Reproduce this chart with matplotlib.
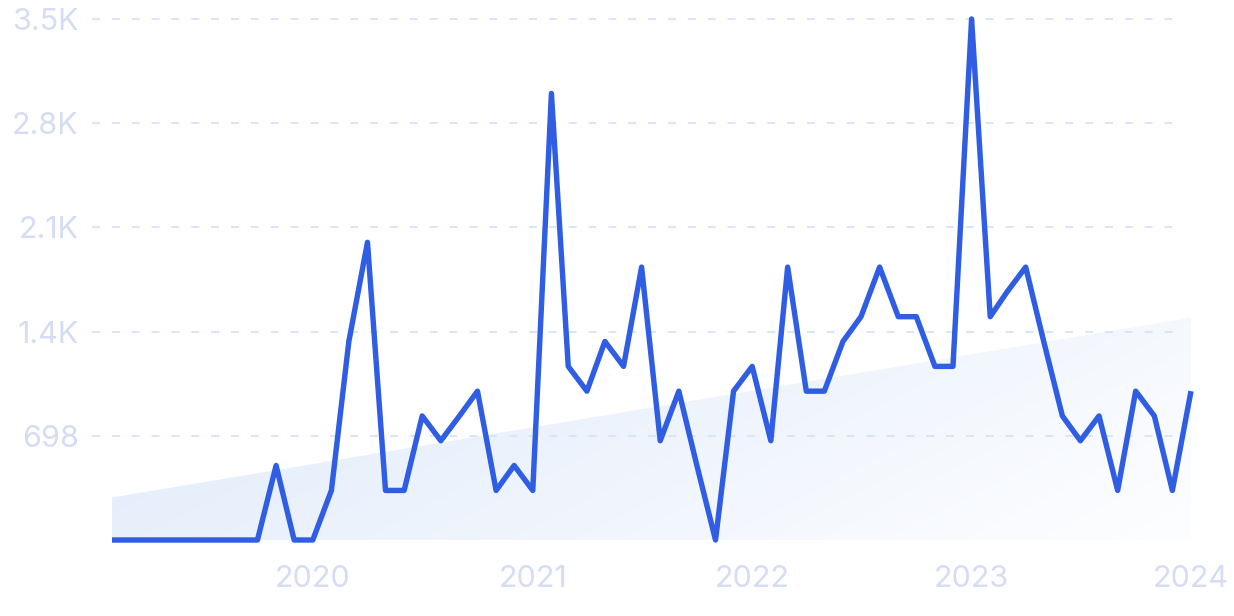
import numpy as np
import pandas as pd
import matplotlib
matplotlib.use("Agg")
import matplotlib.pyplot as plt
import matplotlib.dates as mdates
from matplotlib.colors import LinearSegmentedColormap

# monthly values, Feb 2019 .. Jan 2024
months = pd.date_range("2019-02-01", periods=60, freq="MS")
values = [
    0, 0, 0, 0, 0, 0, 0, 0, 0, 499, 0,                                  # Feb-Dec 2019
    0, 332, 1330, 1994, 332, 332, 831, 665, 831, 997, 332, 499,         # 2020
    332, 2991, 1163, 997, 1330, 1163, 1828, 665, 997, 499, 0, 997,      # 2021
    1163, 665, 1828, 997, 997, 1330, 1496, 1828, 1496, 1496, 1163, 1163,  # 2022
    3490, 1496, 1662, 1828, 1330, 831, 665, 831, 332, 997, 831, 332,    # 2023
    997,                                                                # Jan 2024
]
y_ticks = [698, 1396, 2094, 2792, 3490]
y_labels = ["698", "1.4K", "2.1K", "2.8K", "3.5K"]
x_ticks = ["2020-01-01", "2021-01-01", "2022-01-01", "2023-01-01", "2024-01-01"]
x_labels = ["2020", "2021", "2022", "2023", "2024"]

line_color = "#2f5de3"
label_color = "#d4ddf4"
grid_color = "#d6e3fa"

plt.rcParams["font.family"] = ["Inter", "DejaVu Sans"]

fig = plt.figure(figsize=(12.34, 6.16), dpi=100)
ax = fig.add_axes([112 / 1234, 76 / 616, 1079 / 1234, 521 / 616])

x = mdates.date2num(months)
y = np.array(values, dtype=float)

# linear trend area with gradient fill
coef = np.polyfit(x, y, 1)
trend = np.polyval(coef, x)
poly = ax.fill_between(x, 0, trend, color="none", linewidth=0)
cmap = LinearSegmentedColormap.from_list("fade", ["#dfeafa", "#fcfdff"])
gx, gy = np.meshgrid(np.linspace(0, 1, 200), np.linspace(0, 1, 100))
grad = 0.75 * gx + 0.3 * gy
img = ax.imshow(grad, cmap=cmap, vmin=0, vmax=1.0, aspect="auto",
                extent=[x[0], x[-1], 0, trend.max()], origin="upper", zorder=1)
img.set_clip_path(poly.get_paths()[0], transform=ax.transData)

# dashed grid lines
for t in y_ticks:
    ax.plot([-0.0185, 0.99], [t, t], transform=ax.get_yaxis_transform(),
            color=grid_color, linestyle=(0, (4.4, 6.6)), linewidth=1.3,
            clip_on=False, zorder=2)

ax.plot(x, y, color=line_color, linewidth=3.9, solid_joinstyle="round",
        solid_capstyle="butt", clip_on=False, zorder=3)

ax.set_xlim(x[0], x[-1])
ax.set_ylim(0, 3490)
ax.set_yticks(y_ticks)
ax.set_yticklabels(y_labels)
ax.set_xticks(mdates.date2num(pd.to_datetime(x_ticks)))
ax.set_xticklabels(x_labels)
ax.tick_params(axis="both", length=0, labelsize=22, labelcolor=label_color)
ax.tick_params(axis="y", pad=24)
ax.tick_params(axis="x", pad=18)
for s in ax.spines.values():
    s.set_visible(False)

fig.savefig("out.png", dpi=100)
